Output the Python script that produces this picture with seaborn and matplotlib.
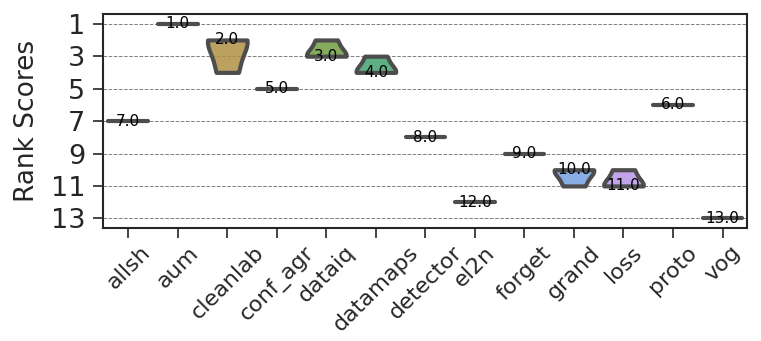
# Rank scores por método: violines recortados al rango de los datos
import matplotlib
matplotlib.use('Agg')
import matplotlib.pyplot as plt
import numpy as np
import pandas as pd
import seaborn

# Datos
metodos = ['allsh', 'aum', 'cleanlab', 'conf_agr', 'dataiq', 'datamaps', 'detector',
           'el2n', 'forget', 'grand', 'loss', 'proto', 'vog']
rankings = {
    'allsh': [7],
    'aum': [1],
    'cleanlab': [2, 2, 4],
    'conf_agr': [5],
    'dataiq': [2, 3, 3],
    'datamaps': [3, 4, 4],
    'detector': [8],
    'el2n': [12],
    'forget': [9],
    'grand': [10, 10, 11],
    'loss': [10, 11, 11],
    'proto': [6],
    'vog': [13],
}
yticks = [1, 3, 5, 7, 9, 11, 13]

df = pd.DataFrame([(m, r) for m in metodos for r in rankings[m]], columns=['metodo', 'rank'])

seaborn.set_style('ticks')

fig = plt.figure(figsize=(7.61, 3.41), dpi=100)
ax = fig.add_axes([0.136, 0.331, 0.846, 0.628])

seaborn.violinplot(data=df, x='metodo', y='rank', hue='metodo', order=metodos,
                   hue_order=metodos, palette='husl', saturation=0.75, legend=False,
                   inner=None, cut=0, density_norm='width', linewidth=3,
                   linecolor='.3', ax=ax)

# Relleno algo transparente, bordes opacos
for coll in ax.collections:
    fc = coll.get_facecolor()
    if len(fc):
        fc[:, 3] = 0.85
        coll.set_facecolor(fc)

# Etiquetas con la mediana de cada método
for i, m in enumerate(metodos):
    med = float(np.median(rankings[m]))
    ax.text(i, med, f'{med:.1f}', ha='center', va='center', fontsize=11, color='black')

ax.invert_yaxis()
ax.set_yticks(yticks)
ax.yaxis.grid(True, linestyle='--', color='gray', linewidth=0.7)
ax.set_axisbelow(True)
ax.set_xlabel('')
ax.set_ylabel('Rank Scores', fontsize=19, labelpad=8)
ax.tick_params(axis='y', labelsize=19.5, length=7.2, width=1.2, pad=6)
ax.tick_params(axis='x', labelsize=16, length=7.2, width=1.2, pad=3)
plt.setp(ax.get_xticklabels(), rotation=45)
for s in ax.spines.values():
    s.set_linewidth(1.5)

fig.savefig('out.png', dpi=100)
